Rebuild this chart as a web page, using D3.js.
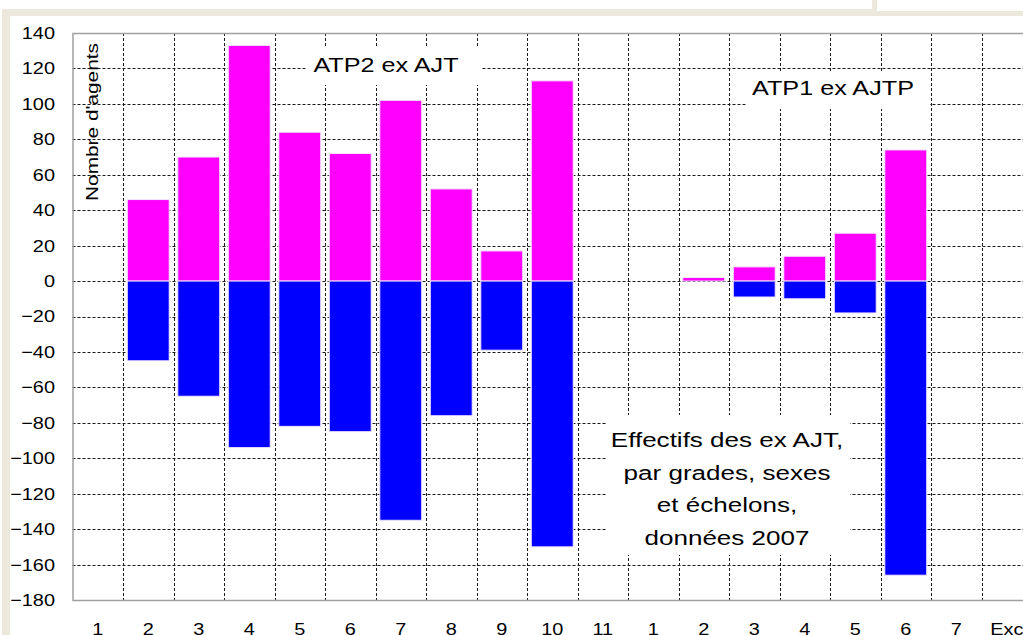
<!DOCTYPE html>
<html>
<head>
<meta charset="utf-8">
<script src="https://cdn.jsdelivr.net/npm/d3@7"></script>
<style>
  html, body { margin: 0; padding: 0; background: #fff; overflow: hidden; }
  svg { display: block; font-family: "Liberation Sans", Arial, sans-serif; }
</style>
</head>
<body>
<div id="chart"></div>
<script>
// echelons : 1..11 pour ATP2, puis 1..7 + Exc pour ATP1
var categories = ["1","2","3","4","5","6","7","8","9","10","11","1","2","3","4","5","6","7","Exc"];
var femmes = [null, 46, 70, 133, 84, 72, 102, 52, 17, 113, null, null, 2, 8, 14, 27, 74, null, null];
var hommes = [null, -45, -65, -94, -82, -85, -135, -76, -39, -150, null, null, 0, -9, -10, -18, -166, null, null];
var yTicks = [140, 120, 100, 80, 60, 40, 20, 0, -20, -40, -60, -80, -100, -120, -140, -160, -180];
var noteLines = ["Effectifs des ex AJT,", "par grades, sexes", "et \u00e9chelons,", "donn\u00e9es 2007"];

var W = 1023, H = 635;
var plotLeft = 72.5, plotTop = 33, plotBottom = 600, plotRight = 1032;
var stretch = 1.17; // le texte de la copie d'ecran est elargi

var svg = d3.select('#chart').append('svg').attr('width', W).attr('height', H);

// cadre beige de la fenetre
var beige = '#ECE9DC';
svg.append('rect').attr('x', 2).attr('y', 9).attr('width', 870).attr('height', 7).attr('fill', beige);
svg.append('rect').attr('x', 872).attr('y', 0).attr('width', 5).attr('height', 16).attr('fill', beige);
svg.append('rect').attr('x', 877).attr('y', 11).attr('width', W - 877).attr('height', 5).attr('fill', beige);
svg.append('rect').attr('x', 2).attr('y', 9).attr('width', 8).attr('height', H - 9).attr('fill', beige);

var idx = d3.range(categories.length);
var xGrid = d3.scaleBand().domain(idx).range([plotLeft, plotRight]).padding(0);
var x = d3.scaleBand().domain(idx).range([plotLeft, plotRight]).paddingInner(0.17).paddingOuter(0.085);
var y = d3.scaleLinear().domain([-180, 140]).range([plotBottom, plotTop]);

// quadrillage
var grid = svg.append('g').attr('stroke', '#1a1a1a').attr('stroke-width', 1).attr('stroke-dasharray', '3,2');
grid.selectAll('line.h').data(yTicks.filter(function(d) { return d > -180 && d < 140; }))
  .enter().append('line').attr('class', 'h')
  .attr('x1', plotLeft).attr('x2', plotRight)
  .attr('y1', function(d) { return Math.round(y(d)) + 0.5; })
  .attr('y2', function(d) { return Math.round(y(d)) + 0.5; });
grid.selectAll('line.v').data(idx.slice(1))
  .enter().append('line').attr('class', 'v')
  .attr('x1', function(d) { return Math.round(xGrid(d)) + 0.5; })
  .attr('x2', function(d) { return Math.round(xGrid(d)) + 0.5; })
  .attr('y1', plotTop).attr('y2', plotBottom);

// barres
function drawBars(values, color) {
  svg.append('g').selectAll('rect')
    .data(values.map(function(v, i) { return { i: i, v: v }; }).filter(function(d) { return d.v !== null; }))
    .enter().append('rect')
    .attr('x', function(d) { return x(d.i); })
    .attr('width', x.bandwidth())
    .attr('y', function(d) { return Math.min(y(d.v), y(0)); })
    .attr('height', function(d) { return Math.abs(y(d.v) - y(0)); })
    .attr('fill', color)
    .attr('stroke', '#f2e4ff')
    .attr('stroke-width', 1);
}
drawBars(femmes, '#FF00FF');
drawBars(hommes, '#0000FF');

// bordure de la zone de trace
svg.append('path')
  .attr('d', 'M' + plotRight + ',' + (plotTop + 0.5) + 'H' + (plotLeft + 0.5) + 'V' + (plotBottom + 0.5) + 'H' + plotRight)
  .attr('fill', 'none').attr('stroke', '#A0A0A0').attr('stroke-width', 1.5);

// axe Y
var yAxis = svg.append('g').attr('transform', 'translate(' + plotLeft + ',0)')
  .call(d3.axisLeft(y).tickValues(yTicks).tickSize(0).tickPadding(15));
yAxis.select('.domain').remove();
yAxis.selectAll('text').attr('font-size', 17).attr('fill', '#000')
  .attr('font-family', '"Liberation Sans", Arial, sans-serif')
  .attr('transform', 'scale(' + stretch + ',1)');

// axe X
var xAxis = svg.append('g').attr('transform', 'translate(0,' + plotBottom + ')')
  .call(d3.axisBottom(xGrid).tickFormat(function(i) { return categories[i]; }).tickSize(0).tickPadding(23));
xAxis.select('.domain').remove();
xAxis.selectAll('text').attr('font-size', 17).attr('fill', '#000')
  .attr('font-family', '"Liberation Sans", Arial, sans-serif')
  .attr('transform', 'scale(' + stretch + ',1)');

// titre de l'axe Y
svg.append('text')
  .attr('transform', 'translate(98,122) rotate(-90)')
  .attr('text-anchor', 'middle')
  .attr('font-size', 17)
  .attr('textLength', 158).attr('lengthAdjust', 'spacingAndGlyphs')
  .text("Nombre d'agents");

// zones de texte
function textBox(bx, by, bw, bh, lines, cx, cy, lh, sx) {
  svg.append('rect').attr('x', bx).attr('y', by).attr('width', bw).attr('height', bh).attr('fill', '#fff');
  lines.forEach(function(t, k) {
    svg.append('text')
      .attr('transform', 'translate(' + cx + ',' + (cy + k * lh) + ') scale(' + sx + ',1)')
      .attr('text-anchor', 'middle')
      .attr('dominant-baseline', 'central')
      .attr('font-size', 21)
      .attr('fill', '#000')
      .text(t);
  });
}
textBox(306, 47, 176, 38, ["ATP2 ex AJT"], 386, 65, 0, 1.2);
textBox(747, 72, 183, 37, ["ATP1 ex AJTP"], 833, 88, 0, 1.2);
textBox(606, 415, 244, 140, noteLines, 727, 440, 32.5, 1.24);
</script>
</body>
</html>
